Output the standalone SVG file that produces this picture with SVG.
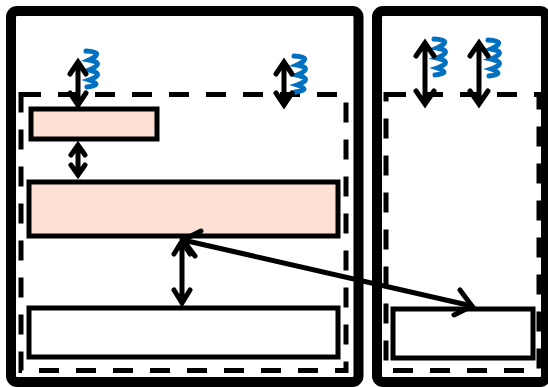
<svg xmlns="http://www.w3.org/2000/svg" width="548" height="387" viewBox="0 0 548 387">
<defs>
<style>
.outer{fill:none;stroke:#000;stroke-width:10}
.dash{fill:none;stroke:#000;stroke-width:5;stroke-dasharray:20 17}
.pink{fill:#FFE0D4;stroke:#000;stroke-width:5}
.white{fill:#fff;stroke:#000;stroke-width:5}
.arr{fill:none;stroke:#000;stroke-width:5;stroke-linecap:round;stroke-linejoin:miter}
.spring{fill:none;stroke:#0070C0;stroke-width:5;stroke-linecap:round}
</style>
<path id="spr" d="M0,0 Q20,1 3,9 Q20,12 3,19 Q20,23 3,29 Q18,34 1,36"/>
</defs>
<rect width="548" height="387" fill="#fff"/>
<g id="hostA">
<rect class="outer" x="11" y="11" width="347.5" height="371" rx="6"/>
<rect class="dash" x="21" y="94.5" width="325" height="276"/>
</g>
<g id="hostB">
<rect class="outer" x="377" y="11" width="169" height="371" rx="6"/>
<rect class="dash" x="386" y="94.5" width="153" height="276"/>
</g>
<g id="nodeSmall"><rect class="pink" x="31" y="109" width="126" height="30"/></g>
<g id="nodeBig"><rect class="pink" x="29" y="182" width="309" height="54"/></g>
<g id="nodeBottomA"><rect class="white" x="29" y="308" width="309" height="49"/></g>
<g id="nodeBottomB"><rect class="white" x="393" y="309" width="140" height="49"/></g>
<g id="springs">
<use href="#spr" class="spring" x="86" y="51"/>
<use href="#spr" class="spring" x="294" y="56"/>
<use href="#spr" class="spring" x="434" y="39"/>
<use href="#spr" class="spring" x="488" y="40"/>
</g>
<g id="connectors">
<path class="arr" d="M78,62 V105 M70,74 L78,62 L86,74 M70,93 L78,105 L86,93"/>
<path class="arr" d="M284,62 V105 M276,74 L284,62 L292,74 M276,93 L284,105 L292,93"/>
<path class="arr" d="M425,43 V104 M416,56 L425,43 L434,56 M416,91 L425,104 L434,91"/>
<path class="arr" d="M479,43 V104 M470,56 L479,43 L488,56 M470,91 L479,104 L488,91"/>
<path class="arr" d="M78,145 V175 M71,155 L78,145 L85,155 M71,165 L78,175 L85,165"/>
<path class="arr" d="M182,241 V303 M174,254 L182,241 L190,254 M174,290 L182,303 L190,290"/>
<path class="arr" d="M183,240 L472,306 M454,315 L472,306 L460,290 M195,256 L183,240 L201,231"/>
</g>
</svg>
